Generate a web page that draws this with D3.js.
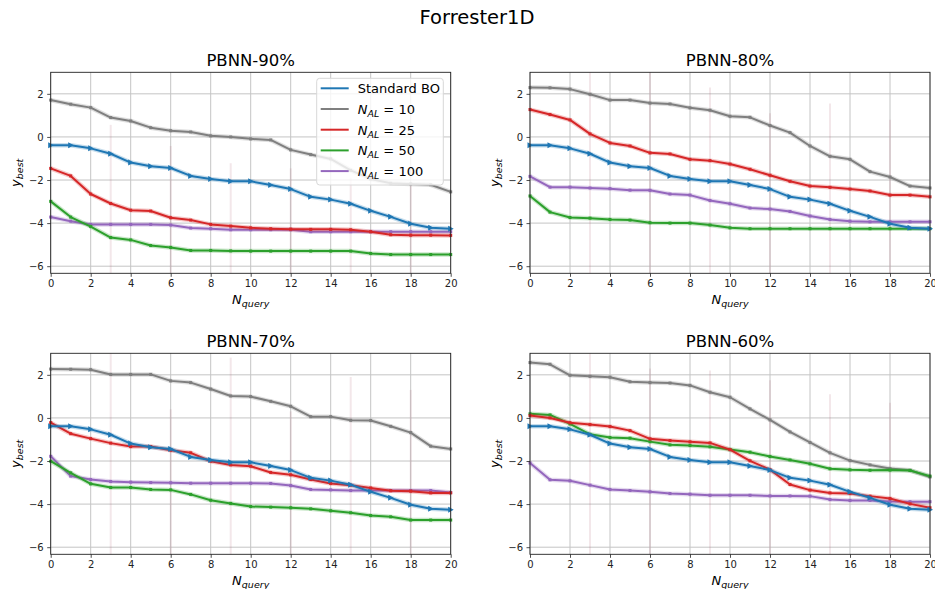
<!DOCTYPE html>
<html>
<head>
<meta charset="utf-8">
<script src="https://cdn.jsdelivr.net/npm/d3@7"></script>
<style>
  body { margin: 0; background: #fff; }
  text { font-family: "DejaVu Sans", sans-serif; }
</style>
</head>
<body>
<div id="chart"></div>
<script>
// x values (number of queries)
var queries = [0,1,2,3,4,5,6,7,8,9,10,11,12,13,14,15,16,17,18,19,20];

// Standard BO (same baseline in every panel)
var standardBO = [-0.39,-0.39,-0.53,-0.78,-1.19,-1.36,-1.44,-1.81,-1.95,-2.06,-2.06,-2.23,-2.42,-2.78,-2.91,-3.10,-3.43,-3.71,-4.03,-4.22,-4.26];

// PBNN-90%
var n10_90  = [1.71,1.52,1.36,0.90,0.74,0.43,0.29,0.23,0.05,0.00,-0.09,-0.14,-0.60,-0.82,-1.02,-1.55,-1.95,-2.15,-2.18,-2.22,-2.55];
var n25_90  = [-1.46,-1.81,-2.65,-3.09,-3.40,-3.44,-3.75,-3.86,-4.06,-4.14,-4.22,-4.26,-4.28,-4.29,-4.29,-4.31,-4.40,-4.54,-4.56,-4.56,-4.57];
var n50_90  = [-2.99,-3.72,-4.16,-4.67,-4.78,-5.04,-5.13,-5.27,-5.27,-5.29,-5.30,-5.30,-5.30,-5.30,-5.30,-5.30,-5.41,-5.46,-5.46,-5.46,-5.46];
var n100_90 = [-3.72,-3.91,-4.06,-4.06,-4.06,-4.06,-4.09,-4.23,-4.26,-4.31,-4.31,-4.31,-4.31,-4.40,-4.40,-4.40,-4.40,-4.40,-4.40,-4.40,-4.40];

// PBNN-80%
var n10_80  = [2.29,2.28,2.22,1.98,1.71,1.71,1.57,1.53,1.35,1.24,0.96,0.91,0.53,0.20,-0.42,-0.90,-1.04,-1.61,-1.86,-2.28,-2.37];
var n25_80  = [1.27,1.04,0.79,0.14,-0.28,-0.42,-0.74,-0.79,-1.04,-1.10,-1.26,-1.50,-1.78,-2.06,-2.28,-2.34,-2.42,-2.51,-2.70,-2.70,-2.78];
var n50_80  = [-2.74,-3.49,-3.74,-3.77,-3.83,-3.86,-3.98,-4.00,-4.00,-4.09,-4.22,-4.26,-4.26,-4.26,-4.26,-4.26,-4.26,-4.26,-4.26,-4.26,-4.26];
var n100_80 = [-1.83,-2.33,-2.33,-2.37,-2.40,-2.47,-2.48,-2.65,-2.70,-2.95,-3.10,-3.30,-3.35,-3.46,-3.67,-3.83,-3.91,-3.94,-3.94,-3.94,-3.94];

// PBNN-70%
var n10_70  = [2.27,2.26,2.24,2.02,2.02,2.02,1.72,1.64,1.34,1.02,0.99,0.77,0.54,0.06,0.06,-0.11,-0.12,-0.39,-0.68,-1.31,-1.44];
var n25_70  = [-0.22,-0.73,-0.96,-1.17,-1.33,-1.33,-1.50,-1.62,-2.01,-2.18,-2.24,-2.53,-2.64,-2.86,-3.04,-3.12,-3.25,-3.38,-3.40,-3.48,-3.48];
var n50_70  = [-2.01,-2.55,-3.06,-3.23,-3.23,-3.32,-3.34,-3.55,-3.82,-3.97,-4.11,-4.14,-4.17,-4.22,-4.31,-4.40,-4.53,-4.59,-4.74,-4.74,-4.74];
var n100_70 = [-1.78,-2.70,-2.86,-2.95,-2.98,-3.00,-3.01,-3.03,-3.03,-3.03,-3.03,-3.04,-3.14,-3.32,-3.34,-3.37,-3.37,-3.37,-3.37,-3.37,-3.46];

// PBNN-60%
var n10_60  = [2.57,2.49,1.98,1.93,1.89,1.68,1.64,1.62,1.51,1.19,0.96,0.42,-0.09,-0.65,-1.14,-1.62,-1.98,-2.18,-2.35,-2.43,-2.74];
var n25_60  = [0.11,0.00,-0.22,-0.31,-0.40,-0.59,-0.97,-1.05,-1.11,-1.16,-1.47,-1.99,-2.40,-3.09,-3.35,-3.48,-3.51,-3.63,-3.74,-3.99,-4.17];
var n50_60  = [0.19,0.14,-0.28,-0.76,-0.91,-0.94,-1.10,-1.25,-1.28,-1.34,-1.47,-1.59,-1.79,-1.95,-2.13,-2.36,-2.41,-2.43,-2.42,-2.44,-2.70];
var n100_60 = [-2.09,-2.87,-2.92,-3.12,-3.32,-3.37,-3.43,-3.51,-3.54,-3.59,-3.59,-3.59,-3.62,-3.62,-3.63,-3.79,-3.83,-3.83,-3.88,-3.89,-3.89];

// faint error bars drawn every third query (upper ends, lower end at axis bottom)
var errQueries = [3, 6, 9, 12, 15, 18];
var errTop_90 = [0.56, -0.42, -1.22, -1.46, -1.9, -2.2];
var errTop_80 = [3.0, 3.0, 2.3, 1.1, 1.55, 0.8];
var errTop_70 = [3.0, 0.4, 2.8, 0.3, 1.9, 1.3];
var errTop_60 = [3.0, 2.3, 2.2, 1.75, 1.1, 0.7];

var seriesNames = ["Standard BO", "10", "25", "50", "100"];
var colors = ["#1f77b4", "#7f7f7f", "#d62728", "#2ca02c", "#9467bd"];
var yTicks = [-6, -4, -2, 0, 2];
var xTicks = [0, 2, 4, 6, 8, 10, 12, 14, 16, 18, 20];

var panels = [
    { title: "PBNN-90%", series: [standardBO, n10_90, n25_90, n50_90, n100_90], err: errTop_90, x: 50.7, y: 72.3, legend: true },
    { title: "PBNN-80%", series: [standardBO, n10_80, n25_80, n50_80, n100_80], err: errTop_80, x: 530, y: 72.3 },
    { title: "PBNN-70%", series: [standardBO, n10_70, n25_70, n50_70, n100_70], err: errTop_70, x: 50.7, y: 353.3 },
    { title: "PBNN-60%", series: [standardBO, n10_60, n25_60, n50_60, n100_60], err: errTop_60, x: 530, y: 353.3 }
];

var W = 935, H = 589;
var width = 400, height = 201;

var svg = d3.select("#chart")
    .append("svg")
    .attr("width", W)
    .attr("height", H);

// suptitle
svg.append("text")
    .attr("x", 477)
    .attr("y", 24)
    .attr("text-anchor", "middle")
    .style("font-size", "19.5px")
    .text("Forrester1D");

var x = d3.scaleLinear().domain([0, 20]).range([0, width]);
var y = d3.scaleLinear().domain([-6.33, 3.0]).range([height, 0]);

var line = d3.line()
    .x(function (d, i) { return x(queries[i]); })
    .y(function (d) { return y(d); });

var triangle = "M-2.5,-3L3,0L-2.5,3Z";

panels.forEach(function (p) {
    var g = svg.append("g")
        .attr("transform", "translate(" + p.x + "," + p.y + ")");

    // grid
    g.append("g")
        .selectAll("line")
        .data(xTicks)
        .enter()
        .append("line")
        .attr("x1", d => x(d)).attr("x2", d => x(d))
        .attr("y1", 0).attr("y2", height)
        .style("stroke", "#c4c4c4")
        .style("stroke-width", 1);
    g.append("g")
        .selectAll("line")
        .data(yTicks)
        .enter()
        .append("line")
        .attr("x1", 0).attr("x2", width)
        .attr("y1", d => y(d)).attr("y2", d => y(d))
        .style("stroke", "#c4c4c4")
        .style("stroke-width", 1);

    // faint error bars
    g.append("g")
        .selectAll("line")
        .data(p.err)
        .enter()
        .append("line")
        .attr("x1", (d, i) => x(errQueries[i]))
        .attr("x2", (d, i) => x(errQueries[i]))
        .attr("y1", d => y(Math.min(d, 3.0)))
        .attr("y2", height)
        .style("stroke", "#b06070")
        .style("stroke-opacity", 0.15)
        .style("stroke-width", 2);

    // lines: draw from last to first so Standard BO sits on top like the reference
    var order = [1, 4, 3, 2, 0];
    order.forEach(function (k) {
        var vals = p.series[k];
        // soft halo
        g.append("path")
            .datum(vals)
            .attr("d", line)
            .style("fill", "none")
            .style("stroke", colors[k])
            .style("stroke-opacity", 0.25)
            .style("stroke-width", 4.5)
            .style("stroke-linejoin", "round");
        g.append("path")
            .datum(vals)
            .attr("d", line)
            .style("fill", "none")
            .style("stroke", colors[k])
            .style("stroke-width", 2)
            .style("stroke-linejoin", "round");
        if (k === 0) {
            g.append("g")
                .selectAll("path")
                .data(vals)
                .enter()
                .append("path")
                .attr("d", triangle)
                .attr("transform", (d, i) => "translate(" + x(queries[i]) + "," + y(d) + ")")
                .style("fill", colors[k]);
        } else {
            g.append("g")
                .selectAll("rect")
                .data(vals)
                .enter()
                .append("rect")
                .attr("x", (d, i) => x(queries[i]) - 1.5)
                .attr("y", d => y(d) - 1.5)
                .attr("width", 3)
                .attr("height", 3)
                .style("fill", colors[k]);
        }
    });

    // axes
    var xAxis = g.append("g")
        .attr("transform", "translate(0," + height + ")")
        .call(d3.axisBottom(x).tickValues(xTicks).tickSize(3.5).tickPadding(3.5).tickFormat(d3.format("d")));
    var yAxis = g.append("g")
        .call(d3.axisLeft(y).tickValues(yTicks).tickSize(3.5).tickPadding(3.5)
            .tickFormat(d => d < 0 ? "\u2212" + Math.abs(d) : d));
    [xAxis, yAxis].forEach(function (a) {
        a.select(".domain").remove();
        a.selectAll("text")
            .style("font-family", "DejaVu Sans, sans-serif")
            .style("font-size", "10px")
            .style("fill", "#222");
        a.selectAll("line").style("stroke", "#222").style("stroke-width", 0.8);
    });

    // frame
    g.append("rect")
        .attr("width", width)
        .attr("height", height)
        .style("fill", "none")
        .style("stroke", "#222")
        .style("stroke-width", 0.9);

    // title
    g.append("text")
        .attr("x", width / 2)
        .attr("y", -6)
        .attr("text-anchor", "middle")
        .style("font-size", "16.5px")
        .text(p.title);

    // x label
    var xl = g.append("text")
        .attr("x", width / 2)
        .attr("y", height + 31)
        .attr("text-anchor", "middle")
        .style("font-size", "13px");
    xl.append("tspan").style("font-style", "italic").text("N");
    xl.append("tspan").style("font-style", "italic").style("font-size", "9.5px")
        .attr("dy", 3).text("query");

    // y label
    var yl = g.append("text")
        .attr("transform", "translate(-31," + (height / 2) + ") rotate(-90)")
        .attr("text-anchor", "middle")
        .style("font-size", "13px");
    yl.append("tspan").style("font-style", "italic").text("y");
    yl.append("tspan").style("font-style", "italic").style("font-size", "9.5px")
        .attr("dy", 3).text("best");

    // legend
    if (p.legend) {
        var lg = g.append("g").attr("transform", "translate(" + (316.7 - p.x) + "," + (78.3 - p.y) + ")");
        lg.append("rect")
            .attr("width", 126.6)
            .attr("height", 106.7)
            .attr("rx", 3)
            .style("fill", "white")
            .style("fill-opacity", 0.8)
            .style("stroke", "#d8d8d8")
            .style("stroke-width", 1);
        seriesNames.forEach(function (name, i) {
            var ly = 10 + i * 20.7;
            lg.append("line")
                .attr("x1", 4).attr("x2", 32)
                .attr("y1", ly).attr("y2", ly)
                .style("stroke", colors[i])
                .style("stroke-width", 2);
            var t = lg.append("text")
                .attr("x", 41)
                .attr("y", ly + 5)
                .style("font-size", "13px");
            if (i === 0) {
                t.text(name);
            } else {
                t.append("tspan").style("font-style", "italic").text("N");
                t.append("tspan").style("font-style", "italic").style("font-size", "9.5px")
                    .attr("dy", 3).text("AL");
                t.append("tspan").attr("dy", -3).text(" = " + name);
            }
        });
    }
});
</script>
</body>
</html>
